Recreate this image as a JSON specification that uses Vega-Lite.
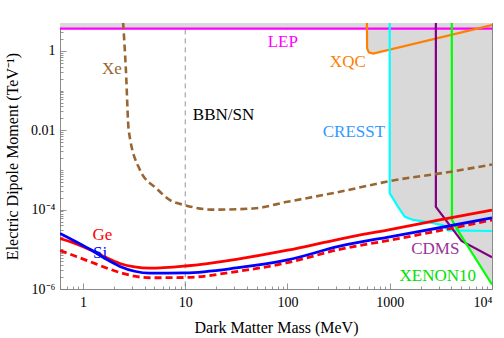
{
  "$schema": "https://vega.github.io/schema/vega-lite/v6.json",
  "width": 432,
  "height": 266,
  "autosize": "none",
  "padding": {"left": 60, "top": 23, "right": 12, "bottom": 49},
  "background": "white",
  "config": {
    "view": {"stroke": "#8a8a8a", "strokeWidth": 1},
    "font": "Liberation Serif",
    "text": {"font": "Liberation Serif"},
    "axis": {
      "domain": false, "grid": false, "tickColor": "#7a7a7a", "tickWidth": 0.8,
      "labelFont": "Liberation Serif", "titleFont": "Liberation Serif",
      "labelColor": "black", "titleColor": "black", "titleFontWeight": "normal",
      "labelFontSize": 14, "titleFontSize": 16
    }
  },
  "datasets": {
    "region": [
      {"x": 0.596, "lo": 3.66}, {"x": 598, "lo": 3.66}, {"x": 601, "lo": 1.148}, {"x": 624, "lo": 0.927},
      {"x": 689, "lo": 0.861}, {"x": 998, "lo": 1.08}, {"x": 1000, "lo": 2.57e-4}, {"x": 1079, "lo": 1.9e-4},
      {"x": 1208, "lo": 1.17e-4}, {"x": 1406, "lo": 6.6e-5}, {"x": 1694, "lo": 5.5e-5}, {"x": 2291, "lo": 4.9e-5},
      {"x": 3327, "lo": 4.07e-5}, {"x": 3724, "lo": 3.0e-5}, {"x": 4227, "lo": 2.95e-5}, {"x": 5035, "lo": 1.62e-5},
      {"x": 5585, "lo": 1.41e-5}, {"x": 10000, "lo": 1.3e-6}
    ],
    "bbn": [{"x": 10, "y": 3.5, "y2": 1e-6}],
    "thin": [
      {"s": "LEP", "x": 0.596, "y": 3.66}, {"s": "LEP", "x": 10000, "y": 3.66},
      {"s": "XQC", "x": 598, "y": 5.2}, {"s": "XQC", "x": 601, "y": 1.148}, {"s": "XQC", "x": 624, "y": 0.927},
      {"s": "XQC", "x": 689, "y": 0.861}, {"s": "XQC", "x": 10000, "y": 4.47},
      {"s": "CRESST", "x": 999, "y": 5.2}, {"s": "CRESST", "x": 1000, "y": 2.57e-4}, {"s": "CRESST", "x": 1079, "y": 1.9e-4},
      {"s": "CRESST", "x": 1208, "y": 1.17e-4}, {"s": "CRESST", "x": 1406, "y": 6.6e-5}, {"s": "CRESST", "x": 1694, "y": 5.5e-5},
      {"s": "CRESST", "x": 2291, "y": 4.9e-5}, {"s": "CRESST", "x": 3327, "y": 4.07e-5}, {"s": "CRESST", "x": 3724, "y": 3.0e-5},
      {"s": "CRESST", "x": 10000, "y": 2.9e-5},
      {"s": "CDMS", "x": 2825, "y": 5.2}, {"s": "CDMS", "x": 2826, "y": 1.17e-4}, {"s": "CDMS", "x": 5035, "y": 1.62e-5},
      {"s": "CDMS", "x": 10000, "y": 6.3e-6},
      {"s": "XENON10", "x": 4046, "y": 5.2}, {"s": "XENON10", "x": 4060, "y": 5.5e-5}, {"s": "XENON10", "x": 4732, "y": 2.75e-5},
      {"s": "XENON10", "x": 10000, "y": 1.3e-6}
    ],
    "xe": [
      {"x": 2.47, "y": 5.2}, {"x": 2.63, "y": 0.327}, {"x": 2.8, "y": 0.01}, {"x": 3.61, "y": 1e-3},
      {"x": 5.25, "y": 3.4e-4}, {"x": 7.09, "y": 1.74e-4}, {"x": 10, "y": 1.29e-4}, {"x": 18.8, "y": 1e-4},
      {"x": 46, "y": 1.07e-4}, {"x": 100, "y": 1.58e-4}, {"x": 325, "y": 2.82e-4}, {"x": 1000, "y": 5.25e-4},
      {"x": 4236, "y": 9.3e-4}, {"x": 10000, "y": 1.38e-3}
    ],
    "thick": [
      {"s": "Ge", "x": 0.596, "y": 1.86e-5}, {"s": "Ge", "x": 0.835, "y": 1.41e-5}, {"s": "Ge", "x": 1.17, "y": 9.8e-6},
      {"s": "Ge", "x": 1.64, "y": 6.4e-6}, {"s": "Ge", "x": 2.3, "y": 4.4e-6}, {"s": "Ge", "x": 3.2, "y": 3.6e-6}, {"s": "Ge", "x": 4.5, "y": 3.35e-6},
      {"s": "Ge", "x": 10, "y": 3.8e-6}, {"s": "Ge", "x": 31.6, "y": 5.6e-6}, {"s": "Ge", "x": 100, "y": 9.5e-6},
      {"s": "Ge", "x": 325, "y": 1.82e-5}, {"s": "Ge", "x": 1000, "y": 3.16e-5}, {"s": "Ge", "x": 3162, "y": 5.6e-5},
      {"s": "Ge", "x": 10000, "y": 9.8e-5},
      {"s": "Si", "x": 0.596, "y": 2.5e-5}, {"s": "Si", "x": 0.835, "y": 1.6e-5}, {"s": "Si", "x": 1.17, "y": 1.0e-5},
      {"s": "Si", "x": 1.64, "y": 5.9e-6}, {"s": "Si", "x": 2.3, "y": 3.7e-6}, {"s": "Si", "x": 3.2, "y": 2.8e-6}, {"s": "Si", "x": 4.5, "y": 2.5e-6},
      {"s": "Si", "x": 10, "y": 2.55e-6}, {"s": "Si", "x": 31.6, "y": 3.4e-6}, {"s": "Si", "x": 100, "y": 5.4e-6},
      {"s": "Si", "x": 325, "y": 1.2e-5}, {"s": "Si", "x": 1000, "y": 2.07e-5}, {"s": "Si", "x": 3162, "y": 3.55e-5},
      {"s": "Si", "x": 10000, "y": 6.2e-5}
    ],
    "gedash": [
      {"x": 0.596, "y": 9.3e-6}, {"x": 0.835, "y": 6.8e-6}, {"x": 1.17, "y": 4.9e-6}, {"x": 1.64, "y": 3.5e-6},
      {"x": 2.3, "y": 2.6e-6}, {"x": 3.2, "y": 2.1e-6}, {"x": 4.5, "y": 1.92e-6}, {"x": 10, "y": 1.95e-6}, {"x": 31.6, "y": 2.75e-6},
      {"x": 100, "y": 4.6e-6}, {"x": 325, "y": 1e-5}, {"x": 1000, "y": 1.7e-5}, {"x": 3162, "y": 3.0e-5},
      {"x": 10000, "y": 5.5e-5}
    ],
    "labels": [
      {"t": "Xe", "x": 1.92, "y": 0.36}, {"t": "LEP", "x": 90, "y": 1.69}, {"t": "XQC", "x": 389, "y": 0.53},
      {"t": "CRESST", "x": 446, "y": 0.0092}, {"t": "BBN/SN", "x": 23.7, "y": 0.024}, {"t": "Ge", "x": 1.55, "y": 2.25e-5},
      {"t": "Si", "x": 1.47, "y": 8.2e-6}, {"t": "CDMS", "x": 2790, "y": 1.01e-5}, {"t": "XENON10", "x": 2950, "y": 2.1e-6}
    ]
  },
  "layer": [
    {
      "data": {"name": "region"},
      "mark": {"type": "area", "color": "#d9d9d9", "clip": true},
      "encoding": {
        "x": {"field": "x", "type": "quantitative", "scale": {"type": "log", "domain": [0.596, 10000], "nice": false},
          "axis": {"orient": "bottom", "values": [1, 10, 100, 1000, 10000], "tickSize": -6, "labelPadding": 12,
            "labelExpr": "datum.value > 9999 ? '10⁴' : format(datum.value, 'd')", "title": "Dark Matter Mass (MeV)", "titlePadding": 10}},
        "y": {"field": "lo", "type": "quantitative", "scale": {"type": "log", "domain": [1e-6, 5.07], "nice": false},
          "axis": {"orient": "left", "values": [1e-6, 1e-4, 0.01, 1], "tickSize": -6, "labelPadding": 11,
            "labelExpr": "datum.value < 1e-5 ? '10⁻⁶' : datum.value < 1e-3 ? '10⁻⁴' : datum.value < 0.1 ? '0.01' : '1'",
            "title": "Electric Dipole Moment (TeV⁻¹)", "titlePadding": 10}},
        "y2": {"datum": 5.07}
      }
    },
    {
      "data": {"name": "bbn"},
      "mark": {"type": "rule", "color": "#777777", "strokeDash": [5, 4], "strokeWidth": 0.8, "clip": true},
      "encoding": {
        "x": {"field": "x", "type": "quantitative", "scale": {"type": "log", "domain": [0.596, 10000], "nice": false},
          "axis": {"orient": "bottom", "values": [0.6,0.7,0.8,0.9,2,3,4,5,6,7,8,9,20,30,40,50,60,70,80,90,200,300,400,500,600,700,800,900,2000,3000,4000,5000,6000,7000,8000,9000], "tickSize": -3, "labels": false, "title": null}},
        "y": {"field": "y", "type": "quantitative", "scale": {"type": "log", "domain": [1e-6, 5.07], "nice": false},
          "axis": {"orient": "left", "values": [2e-6,3e-6,4e-6,5e-6,6e-6,7e-6,8e-6,9e-6,1e-5,2e-5,3e-5,4e-5,5e-5,6e-5,7e-5,8e-5,9e-5,2e-4,3e-4,4e-4,5e-4,6e-4,7e-4,8e-4,9e-4,1e-3,2e-3,3e-3,4e-3,5e-3,6e-3,7e-3,8e-3,9e-3,0.02,0.03,0.04,0.05,0.06,0.07,0.08,0.09,0.1,0.2,0.3,0.4,0.5,0.6,0.7,0.8,0.9,2,3,4,5], "tickSize": -3, "labels": false, "title": null}},
        "y2": {"field": "y2"}
      }
    },
    {
      "data": {"name": "thin"},
      "mark": {"type": "line", "strokeWidth": 2.2, "clip": true},
      "encoding": {
        "x": {"field": "x", "type": "quantitative", "scale": {"type": "log", "domain": [0.596, 10000], "nice": false},
          "axis": {"orient": "top", "values": [1, 10, 100, 1000, 10000], "tickSize": -6, "labels": false, "title": null}},
        "y": {"field": "y", "type": "quantitative", "scale": {"type": "log", "domain": [1e-6, 5.07], "nice": false},
          "axis": {"orient": "right", "values": [1e-6, 1e-4, 0.01, 1], "tickSize": -6, "labels": false, "title": null}},
        "color": {"field": "s", "type": "nominal", "legend": null,
          "scale": {"domain": ["LEP", "XQC", "CRESST", "CDMS", "XENON10"], "range": ["#ff00ff", "#ff8000", "#00ffff", "#800080", "#00ff00"]}}
      }
    },
    {
      "data": {"name": "xe"},
      "mark": {"type": "line", "strokeWidth": 2.6, "color": "#996633", "strokeDash": [7, 4], "interpolate": "monotone", "clip": true},
      "encoding": {
        "x": {"field": "x", "type": "quantitative", "scale": {"type": "log", "domain": [0.596, 10000], "nice": false},
          "axis": {"orient": "top", "values": [0.6,0.7,0.8,0.9,2,3,4,5,6,7,8,9,20,30,40,50,60,70,80,90,200,300,400,500,600,700,800,900,2000,3000,4000,5000,6000,7000,8000,9000], "tickSize": -3, "labels": false, "title": null}},
        "y": {"field": "y", "type": "quantitative", "scale": {"type": "log", "domain": [1e-6, 5.07], "nice": false},
          "axis": {"orient": "right", "values": [2e-6,3e-6,4e-6,5e-6,6e-6,7e-6,8e-6,9e-6,1e-5,2e-5,3e-5,4e-5,5e-5,6e-5,7e-5,8e-5,9e-5,2e-4,3e-4,4e-4,5e-4,6e-4,7e-4,8e-4,9e-4,1e-3,2e-3,3e-3,4e-3,5e-3,6e-3,7e-3,8e-3,9e-3,0.02,0.03,0.04,0.05,0.06,0.07,0.08,0.09,0.1,0.2,0.3,0.4,0.5,0.6,0.7,0.8,0.9,2,3,4,5], "tickSize": -3, "labels": false, "title": null}}
      }
    },
    {
      "data": {"name": "gedash"},
      "mark": {"type": "line", "strokeWidth": 2.8, "color": "#ff0000", "strokeDash": [7, 4], "interpolate": "monotone", "clip": true},
      "encoding": {
        "x": {"field": "x", "type": "quantitative", "scale": {"type": "log", "domain": [0.596, 10000], "nice": false}, "axis": null},
        "y": {"field": "y", "type": "quantitative", "scale": {"type": "log", "domain": [1e-6, 5.07], "nice": false}, "axis": null}
      }
    },
    {
      "data": {"name": "thick"},
      "mark": {"type": "line", "strokeWidth": 2.8, "interpolate": "monotone", "clip": true},
      "encoding": {
        "x": {"field": "x", "type": "quantitative", "scale": {"type": "log", "domain": [0.596, 10000], "nice": false}, "axis": null},
        "y": {"field": "y", "type": "quantitative", "scale": {"type": "log", "domain": [1e-6, 5.07], "nice": false}, "axis": null},
        "color": {"field": "s", "type": "nominal", "legend": null, "scale": {"domain": ["Ge", "Si"], "range": ["#ff0000", "#0000ff"]}}
      }
    },
    {
      "data": {"name": "labels"},
      "mark": {"type": "text", "font": "Liberation Serif", "fontSize": 17, "align": "center", "baseline": "middle"},
      "encoding": {
        "x": {"field": "x", "type": "quantitative", "scale": {"type": "log", "domain": [0.596, 10000], "nice": false}, "axis": null},
        "y": {"field": "y", "type": "quantitative", "scale": {"type": "log", "domain": [1e-6, 5.07], "nice": false}, "axis": null},
        "text": {"field": "t"},
        "color": {"field": "t", "type": "nominal", "legend": null,
          "scale": {"domain": ["Xe", "LEP", "XQC", "CRESST", "BBN/SN", "Ge", "Si", "CDMS", "XENON10"],
            "range": ["#996633", "#ff00ff", "#ff8000", "#3399ff", "#000000", "#ff0000", "#0000ff", "#993399", "#00e000"]}}
      }
    }
  ],
  "resolve": {"axis": {"x": "independent", "y": "independent"}, "scale": {"color": "independent"}}
}
